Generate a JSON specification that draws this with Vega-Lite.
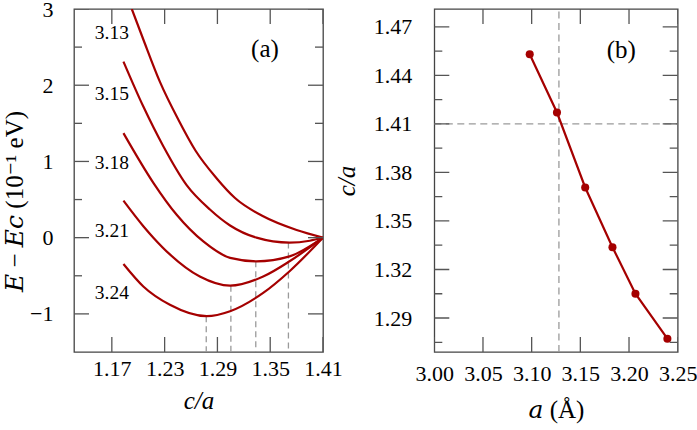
{
  "$schema": "https://vega.github.io/schema/vega-lite/v6.json",
  "autosize": "none",
  "padding": {"left": 74, "top": 9, "right": 623, "bottom": 421},
  "background": "white",
  "spacing": 111.3,
  "bounds": "flush",
  "datasets": {
    "curves": [
      {"a": "3.13", "ca": 1.1927, "E": 3.0},
      {"a": "3.13", "ca": 1.2058, "E": 2.6},
      {"a": "3.13", "ca": 1.2248, "E": 2.04},
      {"a": "3.13", "ca": 1.2455, "E": 1.55},
      {"a": "3.13", "ca": 1.2652, "E": 1.14},
      {"a": "3.13", "ca": 1.289, "E": 0.78},
      {"a": "3.13", "ca": 1.31, "E": 0.52},
      {"a": "3.13", "ca": 1.342, "E": 0.28},
      {"a": "3.13", "ca": 1.38, "E": 0.1},
      {"a": "3.13", "ca": 1.41, "E": 0.0},
      {"a": "3.15", "ca": 1.1832, "E": 2.31},
      {"a": "3.15", "ca": 1.2058, "E": 1.72},
      {"a": "3.15", "ca": 1.2285, "E": 1.2},
      {"a": "3.15", "ca": 1.255, "E": 0.69},
      {"a": "3.15", "ca": 1.2815, "E": 0.37},
      {"a": "3.15", "ca": 1.3044, "E": 0.16},
      {"a": "3.15", "ca": 1.3344, "E": 0.0},
      {"a": "3.15", "ca": 1.372, "E": -0.065},
      {"a": "3.15", "ca": 1.395, "E": -0.04},
      {"a": "3.15", "ca": 1.41, "E": 0.0},
      {"a": "3.18", "ca": 1.1832, "E": 1.372},
      {"a": "3.18", "ca": 1.2172, "E": 0.72},
      {"a": "3.18", "ca": 1.2437, "E": 0.3},
      {"a": "3.18", "ca": 1.274, "E": -0.05},
      {"a": "3.18", "ca": 1.3044, "E": -0.265},
      {"a": "3.18", "ca": 1.3344, "E": -0.31},
      {"a": "3.18", "ca": 1.372, "E": -0.245},
      {"a": "3.18", "ca": 1.41, "E": 0.0},
      {"a": "3.21", "ca": 1.1832, "E": 0.485},
      {"a": "3.21", "ca": 1.2058, "E": 0.15},
      {"a": "3.21", "ca": 1.2172, "E": 0.0},
      {"a": "3.21", "ca": 1.236, "E": -0.22},
      {"a": "3.21", "ca": 1.27, "E": -0.51},
      {"a": "3.21", "ca": 1.3044, "E": -0.63},
      {"a": "3.21", "ca": 1.342, "E": -0.51},
      {"a": "3.21", "ca": 1.372, "E": -0.31},
      {"a": "3.21", "ca": 1.41, "E": 0.0},
      {"a": "3.24", "ca": 1.1832, "E": -0.345},
      {"a": "3.24", "ca": 1.2058, "E": -0.64},
      {"a": "3.24", "ca": 1.236, "E": -0.88},
      {"a": "3.24", "ca": 1.2778, "E": -1.03},
      {"a": "3.24", "ca": 1.3044, "E": -0.965},
      {"a": "3.24", "ca": 1.342, "E": -0.725},
      {"a": "3.24", "ca": 1.372, "E": -0.44},
      {"a": "3.24", "ca": 1.41, "E": 0.0}
    ],
    "minima": [
      {"a": "3.15", "ca": 1.3707, "Emin": -0.065},
      {"a": "3.18", "ca": 1.3336, "Emin": -0.31},
      {"a": "3.21", "ca": 1.3053, "Emin": -0.63},
      {"a": "3.24", "ca": 1.2773, "Emin": -1.03}
    ],
    "curveLabels": [
      {"label": "3.13", "ca": 1.17, "E": 2.68},
      {"label": "3.15", "ca": 1.17, "E": 1.88},
      {"label": "3.18", "ca": 1.17, "E": 0.98},
      {"label": "3.21", "ca": 1.17, "E": 0.09},
      {"label": "3.24", "ca": 1.17, "E": -0.72}
    ],
    "optimum": [
      {"a": 3.098, "ca": 1.453},
      {"a": 3.126, "ca": 1.417},
      {"a": 3.155, "ca": 1.3707},
      {"a": 3.183, "ca": 1.3338},
      {"a": 3.2066, "ca": 1.305},
      {"a": 3.2394, "ca": 1.2772}
    ],
    "xtA": [{"v": 1.17}, {"v": 1.23}, {"v": 1.29}, {"v": 1.35}, {"v": 1.41}],
    "ytA": [{"v": -1}, {"v": 0}, {"v": 1}, {"v": 2}, {"v": 3}],
    "ytAm": [{"v": -0.5}, {"v": 0.5}, {"v": 1.5}, {"v": 2.5}],
    "xtB": [{"v": 3.0}, {"v": 3.05}, {"v": 3.1}, {"v": 3.15}, {"v": 3.2}, {"v": 3.25}],
    "ytB": [{"v": 1.29}, {"v": 1.32}, {"v": 1.35}, {"v": 1.38}, {"v": 1.41}, {"v": 1.44}, {"v": 1.47}],
    "ytBm": [{"v": 1.275}, {"v": 1.305}, {"v": 1.335}, {"v": 1.365}, {"v": 1.395}, {"v": 1.425}, {"v": 1.455}]
  },
  "hconcat": [
    {
      "width": 249,
      "height": 343,
      "resolve": {"axis": {"x": "independent", "y": "independent"}},
      "layer": [
        {
          "data": {"name": "minima"},
          "mark": {"type": "rule", "color": "#9a9a9a", "strokeDash": [6, 4], "strokeWidth": 1.3},
          "encoding": {
            "x": {"field": "ca", "type": "quantitative", "scale": {"domain": [1.127, 1.41], "nice": false, "zero": false}, "axis": null},
            "y": {"field": "Emin", "type": "quantitative", "scale": {"domain": [-1.5, 3], "nice": false, "zero": false}, "axis": null},
            "y2": {"datum": -1.5}
          }
        },
        {
          "data": {"name": "curves"},
          "mark": {"type": "line", "color": "#a50000", "strokeWidth": 2.2, "interpolate": "monotone", "clip": true},
          "encoding": {
            "x": {"field": "ca", "type": "quantitative",
              "axis": {"orient": "bottom", "values": [1.17, 1.23, 1.29, 1.35, 1.41], "format": ".2f", "ticks": false,
                "labelPadding": 6, "labelFlush": false, "labelOverlap": false,
                "title": "c/a", "titleFontStyle": "italic", "titlePadding": 9}},
            "y": {"field": "E", "type": "quantitative",
              "axis": {"orient": "left", "values": [-1, 0, 1, 2, 3], "format": "d", "ticks": false,
                "labelPadding": 21, "labelFlush": false, "labelOverlap": false,
                "title": "𝐸 − 𝐸𝑐 (10⁻¹ eV)", "titlePadding": 2, "titleY": 192}},
            "detail": {"field": "a", "type": "nominal"}
          }
        },
        {
          "data": {"name": "curveLabels"},
          "mark": {"type": "text", "font": "'Liberation Serif', 'DejaVu Serif', serif", "fontSize": 19.5, "align": "center", "baseline": "middle", "color": "#000"},
          "encoding": {
            "x": {"field": "ca", "type": "quantitative", "axis": null},
            "y": {"field": "E", "type": "quantitative", "axis": null},
            "text": {"field": "label"}
          }
        },
        {
          "data": {"values": [{"label": "(a)", "ca": 1.344, "E": 2.47}]},
          "mark": {"type": "text", "font": "'Liberation Serif', 'DejaVu Serif', serif", "fontSize": 25, "align": "center", "baseline": "middle", "color": "#000"},
          "encoding": {
            "x": {"field": "ca", "type": "quantitative", "axis": null},
            "y": {"field": "E", "type": "quantitative", "axis": null},
            "text": {"field": "label"}
          }
        },
        {
          "data": {"name": "xtA"},
          "mark": {"type": "tick", "orient": "vertical", "size": 30, "thickness": 1.3, "color": "#555", "opacity": 1, "clip": true},
          "encoding": {"x": {"field": "v", "type": "quantitative", "axis": null}, "y": {"datum": -1.5, "type": "quantitative", "axis": null}}
        },
        {
          "data": {"name": "xtA"},
          "mark": {"type": "tick", "orient": "vertical", "size": 30, "thickness": 1.3, "color": "#555", "opacity": 1, "clip": true},
          "encoding": {"x": {"field": "v", "type": "quantitative", "axis": null}, "y": {"datum": 3, "type": "quantitative", "axis": null}}
        },
        {
          "data": {"name": "ytA"},
          "mark": {"type": "tick", "orient": "horizontal", "size": 30, "thickness": 1.3, "color": "#555", "opacity": 1, "clip": true},
          "encoding": {"y": {"field": "v", "type": "quantitative", "axis": null}, "x": {"datum": 1.127, "type": "quantitative", "axis": null}}
        },
        {
          "data": {"name": "ytA"},
          "mark": {"type": "tick", "orient": "horizontal", "size": 30, "thickness": 1.3, "color": "#555", "opacity": 1, "clip": true},
          "encoding": {"y": {"field": "v", "type": "quantitative", "axis": null}, "x": {"datum": 1.41, "type": "quantitative", "axis": null}}
        },
        {
          "data": {"name": "ytAm"},
          "mark": {"type": "tick", "orient": "horizontal", "size": 16, "thickness": 1.3, "color": "#555", "opacity": 1, "clip": true},
          "encoding": {"y": {"field": "v", "type": "quantitative", "axis": null}, "x": {"datum": 1.127, "type": "quantitative", "axis": null}}
        },
        {
          "data": {"name": "ytAm"},
          "mark": {"type": "tick", "orient": "horizontal", "size": 16, "thickness": 1.3, "color": "#555", "opacity": 1, "clip": true},
          "encoding": {"y": {"field": "v", "type": "quantitative", "axis": null}, "x": {"datum": 1.41, "type": "quantitative", "axis": null}}
        }
      ]
    },
    {
      "width": 243.4,
      "height": 343,
      "resolve": {"axis": {"x": "independent", "y": "independent"}},
      "layer": [
        {
          "data": {"values": [{"a": 3.128, "lo": 1.269, "hi": 1.481}]},
          "mark": {"type": "rule", "color": "#9a9a9a", "strokeDash": [7, 4.5], "strokeWidth": 1.3},
          "encoding": {
            "x": {"field": "a", "type": "quantitative", "scale": {"domain": [3.0, 3.25], "nice": false, "zero": false}, "axis": null},
            "y": {"field": "lo", "type": "quantitative", "scale": {"domain": [1.269, 1.481], "nice": false, "zero": false}, "axis": null},
            "y2": {"field": "hi"}
          }
        },
        {
          "data": {"values": [{"ca": 1.41, "lo": 3.0, "hi": 3.25}]},
          "mark": {"type": "rule", "color": "#9a9a9a", "strokeDash": [7, 4.5], "strokeWidth": 1.3},
          "encoding": {
            "y": {"field": "ca", "type": "quantitative", "axis": null},
            "x": {"field": "lo", "type": "quantitative", "axis": null},
            "x2": {"field": "hi"}
          }
        },
        {
          "data": {"name": "optimum"},
          "mark": {"type": "line", "color": "#a50000", "strokeWidth": 2.2, "point": {"filled": true, "size": 65, "color": "#a50000"}},
          "encoding": {
            "x": {"field": "a", "type": "quantitative",
              "axis": {"orient": "bottom", "values": [3.0, 3.05, 3.1, 3.15, 3.2, 3.25], "format": ".2f", "ticks": false,
                "labelPadding": 11, "labelFlush": false, "labelOverlap": false,
                "title": "𝑎 (Å)", "titlePadding": 13}},
            "y": {"field": "ca", "type": "quantitative",
              "axis": {"orient": "left", "values": [1.29, 1.32, 1.35, 1.38, 1.41, 1.44, 1.47], "format": ".2f", "ticks": false,
                "labelPadding": 22.5, "labelFlush": false, "labelOverlap": false,
                "title": "c/a", "titleFontStyle": "italic", "titlePadding": 14}}
          }
        },
        {
          "data": {"values": [{"label": "(b)", "a": 3.192, "ca": 1.4556}]},
          "mark": {"type": "text", "font": "'Liberation Serif', 'DejaVu Serif', serif", "fontSize": 25, "align": "center", "baseline": "middle", "color": "#000"},
          "encoding": {
            "x": {"field": "a", "type": "quantitative", "axis": null},
            "y": {"field": "ca", "type": "quantitative", "axis": null},
            "text": {"field": "label"}
          }
        },
        {
          "data": {"name": "xtB"},
          "mark": {"type": "tick", "orient": "vertical", "size": 30, "thickness": 1.3, "color": "#555", "opacity": 1, "clip": true},
          "encoding": {"x": {"field": "v", "type": "quantitative", "axis": null}, "y": {"datum": 1.269, "type": "quantitative", "axis": null}}
        },
        {
          "data": {"name": "xtB"},
          "mark": {"type": "tick", "orient": "vertical", "size": 30, "thickness": 1.3, "color": "#555", "opacity": 1, "clip": true},
          "encoding": {"x": {"field": "v", "type": "quantitative", "axis": null}, "y": {"datum": 1.481, "type": "quantitative", "axis": null}}
        },
        {
          "data": {"name": "ytB"},
          "mark": {"type": "tick", "orient": "horizontal", "size": 30, "thickness": 1.3, "color": "#555", "opacity": 1, "clip": true},
          "encoding": {"y": {"field": "v", "type": "quantitative", "axis": null}, "x": {"datum": 3.0, "type": "quantitative", "axis": null}}
        },
        {
          "data": {"name": "ytB"},
          "mark": {"type": "tick", "orient": "horizontal", "size": 30, "thickness": 1.3, "color": "#555", "opacity": 1, "clip": true},
          "encoding": {"y": {"field": "v", "type": "quantitative", "axis": null}, "x": {"datum": 3.25, "type": "quantitative", "axis": null}}
        },
        {
          "data": {"name": "ytBm"},
          "mark": {"type": "tick", "orient": "horizontal", "size": 16, "thickness": 1.3, "color": "#555", "opacity": 1, "clip": true},
          "encoding": {"y": {"field": "v", "type": "quantitative", "axis": null}, "x": {"datum": 3.0, "type": "quantitative", "axis": null}}
        },
        {
          "data": {"name": "ytBm"},
          "mark": {"type": "tick", "orient": "horizontal", "size": 16, "thickness": 1.3, "color": "#555", "opacity": 1, "clip": true},
          "encoding": {"y": {"field": "v", "type": "quantitative", "axis": null}, "x": {"datum": 3.25, "type": "quantitative", "axis": null}}
        }
      ]
    }
  ],
  "config": {
    "view": {"stroke": "#444", "strokeWidth": 1.3},
    "axis": {
      "domain": false, "grid": false,
      "labelFont": "'Liberation Serif', 'DejaVu Serif', serif", "labelFontSize": 22, "labelColor": "#000",
      "titleFont": "'Liberation Serif', 'DejaVu Serif', serif", "titleFontSize": 25, "titleFontWeight": "normal", "titleColor": "#000"
    }
  }
}
